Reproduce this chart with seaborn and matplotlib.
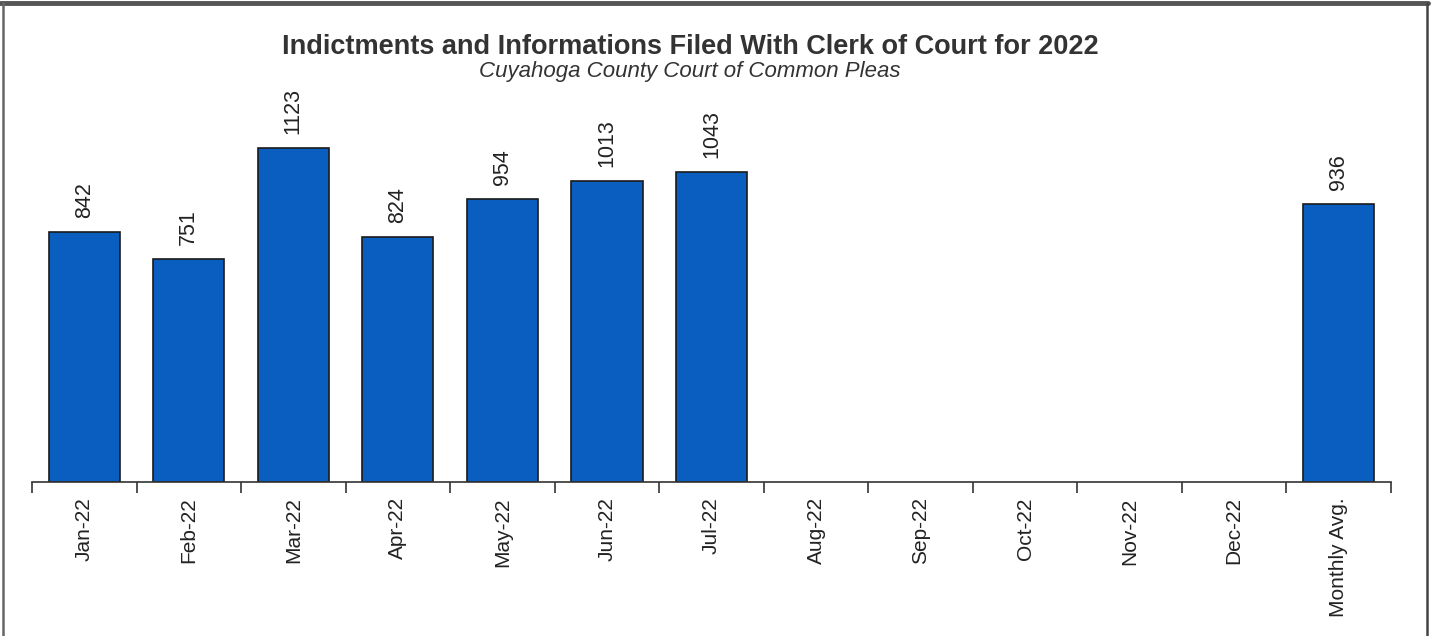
import numpy as np
import pandas as pd
import matplotlib
matplotlib.use("Agg")
import matplotlib.pyplot as plt
import seaborn as sns
from matplotlib.lines import Line2D

months = ["Jan-22", "Feb-22", "Mar-22", "Apr-22", "May-22", "Jun-22", "Jul-22",
          "Aug-22", "Sep-22", "Oct-22", "Nov-22", "Dec-22", "Monthly Avg."]
filed = [842, 751, 1123, 824, 954, 1013, 1043,
         np.nan, np.nan, np.nan, np.nan, np.nan, 936]

df = pd.DataFrame({"Month": months, "Filed": filed})

sns.set_style("white")
plt.rcParams["font.family"] = ["Liberation Sans", "DejaVu Sans"]

fig = plt.figure(figsize=(14.41, 6.36), dpi=100)
W, H = 1441, 636
ax = fig.add_axes([32 / W, (H - 482) / H, (1391 - 32) / W, 416 / H])

sns.barplot(data=df, x="Month", y="Filed", order=months, color="#0A5EC0",
            saturation=1, width=0.68, edgecolor="#1a1a1a", linewidth=1.2, ax=ax)

for c in ax.containers:
    labels = ["" if np.isnan(v) else f"{int(v)}" for v in c.datavalues]
    ax.bar_label(c, labels=labels, rotation=90, padding=10, fontsize=15.5, color="#222222")

ax.set_xlim(-0.5, len(months) - 0.5)
ax.set_ylim(0, 1400)
ax.set_xlabel("")
ax.set_ylabel("")
ax.set_yticks([])
ax.set_xticks(range(len(months)))
ax.set_xticklabels(months, rotation=90, fontsize=15, color="#222222")
ax.set_xticks(np.arange(-0.5, len(months)), minor=True)
ax.tick_params(axis="x", which="major", bottom=True, length=0, pad=11)
ax.tick_params(axis="x", which="minor", bottom=True, length=8, width=1.2,
               color="#333333", direction="out")
for s in ["top", "left", "right"]:
    ax.spines[s].set_visible(False)
ax.spines["bottom"].set_color("#333333")
ax.spines["bottom"].set_linewidth(1.2)

fig.text(690 / W, 1 - 47 / H, "Indictments and Informations Filed With Clerk of Court for 2022",
         ha="center", va="center", fontsize=19.5, fontweight="bold", color="#333333")
fig.text(690 / W, 1 - 71 / H, "Cuyahoga County Court of Common Pleas",
         ha="center", va="center", fontsize=16, style="italic", color="#333333")

# outer frame
fig.add_artist(Line2D([0, 1428 / W], [1 - 3 / H, 1 - 3 / H], color="#555555", lw=3.5, transform=fig.transFigure))
fig.add_artist(Line2D([3 / W, 3 / W], [0, 1 - 3 / H], color="#666666", lw=1.8, transform=fig.transFigure))
fig.add_artist(Line2D([1427 / W, 1427 / W], [0, 1 - 3 / H], color="#444444", lw=1.8, transform=fig.transFigure))

fig.savefig("out.png", dpi=100)
